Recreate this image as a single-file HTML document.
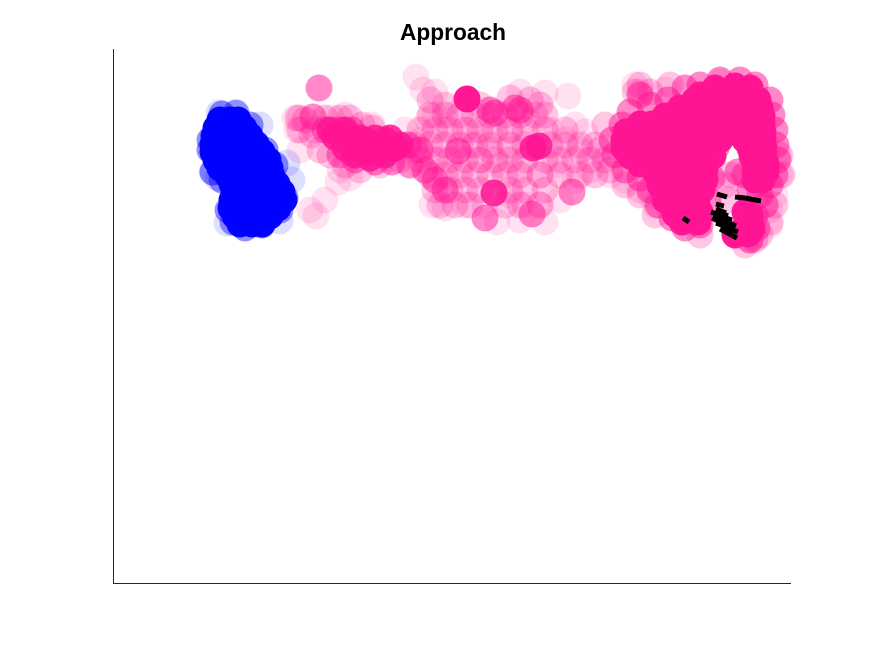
<!DOCTYPE html>
<html>
<head>
<meta charset="utf-8">
<title>Approach</title>
<style>
html,body{margin:0;padding:0;background:#fff;width:875px;height:656px;overflow:hidden}
svg{display:block}
text{font-family:"Liberation Sans",Arial,sans-serif}
</style>
</head>
<body>
<svg id="chart" width="875" height="656" viewBox="0 0 875 656" xmlns="http://www.w3.org/2000/svg">
<g id="marks"></g>
<line x1="113.5" y1="49" x2="113.5" y2="584" stroke="#262626" stroke-width="1"/>
<line x1="113" y1="583.5" x2="791" y2="583.5" stroke="#262626" stroke-width="1"/>
<text x="453" y="40" text-anchor="middle" font-size="22.7" font-weight="bold" fill="#000">Approach</text>
</svg>
<script>
// Values are in axis units: x grows rightward from 0, y grows downward from 0 (image-style axis).
const xLimits = [0, 678];
const yLimits = [0, 534];

const blueFaintX = [106,99,105,179,174,147,114,167];
const blueFaintY = [64,123,129,131,114,76,174,172];
const blueMediumX = [109,123,97,97,100,109,115,120,132,149,167,172,162,152,137];
const blueMediumY = [65,64,91,101,123,131,161,173,179,176,161,149,116,101,76];
const blueDenseX = [107,117,125,103,113,123,131,101,111,121,131,137,100,110,120,130,143,100,112,124,136,149,103,116,129,142,155,107,119,132,145,157,115,127,139,151,159,119,131,143,155,164,121,133,145,157,169,119,131,143,155,171,118,130,142,154,165,122,134,146,157,127,139,149];
const blueDenseY = [71,71,71,79,79,79,79,87,87,87,87,87,95,95,95,95,95,103,103,103,103,103,111,111,111,111,111,119,119,119,119,119,127,127,127,127,127,135,135,135,135,135,143,143,143,143,143,151,151,151,151,151,159,159,159,159,159,167,167,167,167,175,175,175];

const pinkFaintX = [303,455,310,322,337,322,407,432,462,437,452,472,467,197,203,212,225,187,182,184,187,227,237,259,232,219,292,307,315,332,357,377,397,414,327,347,367,387,407,427,442,357,377,397,319,332,352,397,412,432,407,384,372,427,447,462,477,497,512,527,537,542,657,657,662,667,665,642,637,522,527,552,617,607];
const pinkFaintY = [28,47,41,43,66,66,43,44,76,81,91,83,101,161,167,151,133,69,69,81,101,121,129,76,66,69,81,91,71,81,81,86,81,71,111,121,111,116,121,126,116,96,101,101,156,159,156,146,156,173,171,173,156,156,151,131,121,126,131,141,146,156,161,176,146,126,106,189,191,36,43,41,40,33];

const pinkLightX = [317,332,347,362,377,392,407,422,432,307,322,337,352,367,382,397,412,432,452,302,317,332,347,362,377,397,412,437,452,467,482,307,322,337,352,367,382,397,412,432,447,462,477,492,317,332,347,362,377,392,407,427,447,467,482,322,337,352,367,397,412,432,327,342,357,392,407,427,185,187,192,202,212,227,237,249,259,217,232,247,267,287,302,207,199,497,512,527,542,587,527,537,557,667,669,662,657,642,632,647,617,612,615,487,492,522,317,332,397,417,427,367];
const pinkLightY = [66,66,66,66,66,66,66,66,66,81,81,81,81,81,81,81,81,81,81,96,96,96,96,96,96,96,96,96,96,96,96,111,111,111,111,111,111,111,111,111,111,111,111,111,126,126,126,126,126,126,126,126,126,126,126,141,141,141,141,141,141,141,156,156,156,156,156,156,69,81,71,81,69,69,69,76,79,106,116,121,116,111,101,101,86,121,136,146,166,186,36,43,36,106,126,156,173,191,196,186,126,136,151,101,76,43,51,56,49,51,56,56];

const pinkMediumX = [200,212,227,239,227,242,262,279,295,307,297,312,322,332,206,377,382,407,402,345,459,372,419,527,537,517,509,555,572,587,607,627,642,657,659,662,663,665,662,657,499,502,512,527,537,545,559,572,587,595,599,625,632,637,647,652,642,644,637,625,603];
const pinkMediumY = [68,81,81,81,106,111,113,113,96,101,116,121,131,141,39,61,64,61,59,102,143,169,165,46,56,63,76,51,39,36,31,31,36,51,66,81,96,111,126,136,91,106,121,129,141,156,169,179,176,151,129,123,126,141,146,156,166,179,191,183,99];

const pinkStrongX = [222,232,242,252,262,272,282,232,252,272,381,426,420,217,232,247,262,277,287,242,257,272];
const pinkStrongY = [88,91,99,101,101,99,99,99,91,91,144,97,99,81,81,89,89,89,96,106,109,106];

const pinkDenseX = [354,602,612,624,637,582,592,604,616,628,639,645,567,579,591,603,615,627,639,647,552,564,576,588,600,612,624,636,649,527,539,551,563,575,587,599,611,623,635,649,513,525,537,549,561,573,585,597,609,621,633,650,511,523,535,547,559,571,583,595,607,632,642,650,511,523,535,547,559,571,583,595,637,651,517,529,541,553,565,577,589,600,639,651,527,539,551,563,575,587,592,642,653,547,559,571,582,587,642,653,551,563,575,585,642,649,552,564,576,582,555,567,577,559,571,579,567,577,582,575,582,632,634,630,635,602,622,637,587,592,592,589,584,587,585,542,547,552,562,569,622,637,639];
const pinkDenseY = [50,43,43,43,43,51,51,51,51,51,51,51,59,59,59,59,59,59,59,59,67,67,67,67,67,67,67,67,67,75,75,75,75,75,75,75,75,75,75,75,83,83,83,83,83,83,83,83,83,83,83,83,91,91,91,91,91,91,91,91,91,91,91,91,99,99,99,99,99,99,99,99,99,99,107,107,107,107,107,107,107,107,107,107,115,115,115,115,115,115,115,115,115,123,123,123,123,123,123,123,131,131,131,131,131,131,139,139,139,139,147,147,147,155,155,155,163,163,163,171,171,163,173,181,185,39,37,39,46,121,131,141,151,163,173,123,136,151,165,173,186,166,179];

const segmentX1 = [604,622,632,570,603,603,601,603,603,607,605,609,598,599];
const segmentY1 = [145,148,149,169,155,160,165,169,174,180,163,177,163,169];
const segmentX2 = [614,632,648,576,611,613,619,623,617,624,615,625,609,611];
const segmentY2 = [148,149,152,173,157,164,171,177,179,189,167,183,167,175];

function scaleX(v) {
  return 113 + (v - xLimits[0]) / (xLimits[1] - xLimits[0]) * 678;
}
function scaleY(v) {
  return 49 + (v - yLimits[0]) / (yLimits[1] - yLimits[0]) * 534;
}

const marksGroup = document.getElementById('marks');
const SVG_NS = 'http://www.w3.org/2000/svg';
const LAYER_ALPHA = 0.13;

function drawGroup(xs, ys, color, hits, name) {
  const opacity = 1 - Math.pow(1 - LAYER_ALPHA, hits);
  xs.forEach(function (x, i) {
    const c = document.createElementNS(SVG_NS, 'circle');
    c.setAttribute('cx', scaleX(x));
    c.setAttribute('cy', scaleY(ys[i]));
    c.setAttribute('r', 13.5);
    c.setAttribute('fill', color);
    c.setAttribute('fill-opacity', opacity);
    
    
    marksGroup.appendChild(c);
  });
}

drawGroup(pinkFaintX, pinkFaintY, '#ff1493', 1, 'pink-point');
drawGroup(pinkLightX, pinkLightY, '#ff1493', 2, 'pink-point');
drawGroup(pinkMediumX, pinkMediumY, '#ff1493', 5, 'pink-point');
drawGroup(pinkStrongX, pinkStrongY, '#ff1493', 14, 'pink-point');
drawGroup(pinkDenseX, pinkDenseY, '#ff1493', 30, 'pink-point');
drawGroup(blueFaintX, blueFaintY, '#0000ff', 1, 'blue-point');
drawGroup(blueMediumX, blueMediumY, '#0000ff', 4, 'blue-point');
drawGroup(blueDenseX, blueDenseY, '#0000ff', 30, 'blue-point');

segmentX1.forEach(function (x, i) {
  const s = document.createElementNS(SVG_NS, 'line');
  s.setAttribute('x1', scaleX(x));
  s.setAttribute('y1', scaleY(segmentY1[i]));
  s.setAttribute('x2', scaleX(segmentX2[i]));
  s.setAttribute('y2', scaleY(segmentY2[i]));
  s.setAttribute('stroke', '#000');
  s.setAttribute('stroke-width', 5);
  
  
  marksGroup.appendChild(s);
});
</script>
</body>
</html>
